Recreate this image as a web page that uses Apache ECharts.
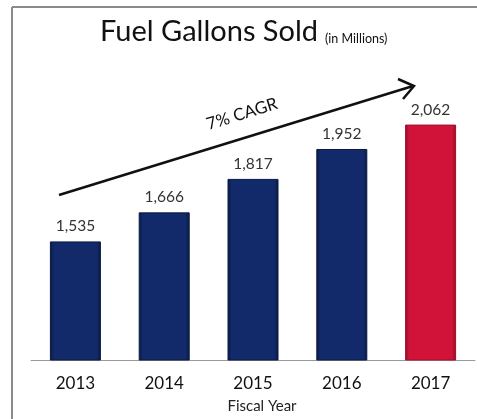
<!DOCTYPE html>
<html>
<head>
<meta charset="utf-8">
<script src="https://cdn.jsdelivr.net/npm/echarts@6/dist/echarts.min.js"></script>
<style>
    html, body {margin: 0; padding: 0; background: #fff;}
    #chart {width: 477px; height: 419px;}
</style>
</head>
<body>
<div id="chart"></div>
<script>
const years = ['2013', '2014', '2015', '2016', '2017'];
const gallons = [1535, 1666, 1817, 1952, 2062];
const highlightYear = '2017';

const navy = '#122a6a',
    red = '#d11339';

function barColor(base, edge) {
    return new echarts.graphic.LinearGradient(0, 0, 1, 0, [
        {offset: 0, color: edge},
        {offset: 0.08, color: base},
        {offset: 0.92, color: base},
        {offset: 1, color: edge}
    ]);
}

const barData = gallons.map((v, i) => {
    const hot = years[i] === highlightYear;
    return {
        value: v,
        itemStyle: {
            color: hot ? barColor(red, '#8e0c27') : barColor(navy, '#0a1840'),
            borderColor: hot ? '#a00e2d' : '#0b1a45',
            borderWidth: 1
        }
    };
});

const font = 'Lato, "DejaVu Sans", sans-serif';

const chart = echarts.init(document.getElementById('chart'));
chart.setOption({
    animation: false,
    textStyle: {fontFamily: font},
    grid: {left: 31, right: 2, top: 94, bottom: 54},
    xAxis: {
        type: 'category',
        data: years,
        name: 'Fiscal Year',
        nameLocation: 'middle',
        nameGap: 39,
        nameTextStyle: {fontSize: 15, color: '#222', padding: [0, 0, 0, 18]},
        axisLine: {lineStyle: {color: '#999', width: 1}},
        axisTick: {length: 7, lineStyle: {color: '#999'}},
        axisLabel: {fontSize: 17, color: '#111', margin: 15}
    },
    yAxis: {
        type: 'value',
        min: 1000,
        max: 2200,
        show: false
    },
    series: [{
        type: 'bar',
        barWidth: 51,
        data: barData,
        label: {
            show: true,
            position: 'top',
            distance: 7,
            fontSize: 15.5,
            color: '#333',
            formatter: (p) => p.value.toLocaleString('en-US')
        }
    }],
    graphic: [
        // frame
        {type: 'line', shape: {x1: 12, y1: 7, x2: 477, y2: 7}, style: {stroke: '#8a8a8a', lineWidth: 2}},
        {type: 'line', shape: {x1: 12, y1: 7, x2: 12, y2: 419}, style: {stroke: '#8a8a8a', lineWidth: 2}},
        // title
        {
            type: 'text', left: 100, top: 17,
            style: {text: 'Fuel Gallons Sold', fontSize: 29, fill: '#111', fontFamily: font}
        },
        {
            type: 'text', left: 325, top: 32,
            style: {text: '(in Millions)', fontSize: 12.5, fill: '#111', fontFamily: font}
        },
        // CAGR arrow
        {type: 'line', shape: {x1: 59, y1: 195, x2: 413, y2: 86}, style: {stroke: '#111', lineWidth: 2.5}},
        {type: 'polyline', shape: {points: [[398, 79], [414, 86], [403, 99]]}, style: {stroke: '#111', lineWidth: 2.5, fill: null}},
        {
            type: 'text', x: 242, y: 114, rotation: 0.3,
            style: {
                text: '7% CAGR', fontSize: 17, fill: '#111',
                align: 'center', verticalAlign: 'middle',
                fontFamily: font
            }
        }
    ]
});
</script>
</body>
</html>
